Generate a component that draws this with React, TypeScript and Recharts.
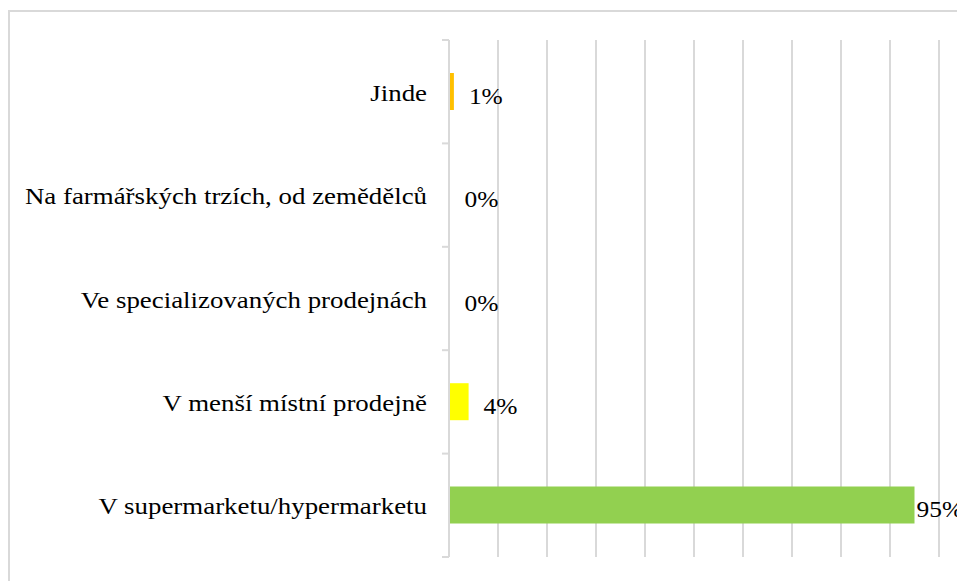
import { BarChart, Bar, XAxis, YAxis, CartesianGrid, LabelList, Cell } from 'recharts';

const categories = [
  'Jinde',
  'Na farmářských trzích, od zemědělců',
  'Ve specializovaných prodejnách',
  'V menší místní prodejně',
  'V supermarketu/hypermarketu',
];
const shares = [0.01, 0, 0, 0.04, 0.95];
const barColors = ['#FFC000', '#5B9BD5', '#A5A5A5', '#FFFF00', '#92D050'];
const xTicks = [0, 0.1, 0.2, 0.3, 0.4, 0.5, 0.6, 0.7, 0.8, 0.9, 1];

const data = categories.map((name, i) => ({ name, share: shares[i] }));

const CHART_W = 949;
const CHART_H = 571;
const FONT = 'Liberation Serif';
const STRETCH = 1.12;

function CategoryTick(props: any) {
  const { x, y, payload, index, visibleTicksCount } = props;
  const half = payload?.offset ?? 51.7;
  const axisX = x + 20;
  return (
    <g>
      <line x1={axisX - 7} x2={axisX} y1={y - half} y2={y - half} stroke="#d9d9d9" strokeWidth={2} />
      {index === visibleTicksCount - 1 && (
        <line x1={axisX - 7} x2={axisX} y1={y + half} y2={y + half} stroke="#d9d9d9" strokeWidth={2} />
      )}
      <g transform={`translate(${x - 2},${y}) scale(${STRETCH},1)`}>
        <text x={0} y={0} dy={1} textAnchor="end" dominantBaseline="central" style={{ fontFamily: FONT, fontSize: 24 }} fill="#000">
          {payload.value}
        </text>
      </g>
    </g>
  );
}

function ValueLabel(props: any) {
  const { x, y, width, height, value } = props;
  const text = `${Math.round(value * 100)}%`;
  const end = x + width;
  const textW = text.length * 13;
  const lx = end + 15 + textW > CHART_W ? end + 2 : end + 15;
  return (
    <g transform={`translate(${lx},${y + height / 2}) scale(1.06,1)`}>
      <text x={0} y={0} dy={4} dominantBaseline="central" style={{ fontFamily: FONT, fontSize: 24 }} fill="#000">
        {text}
      </text>
    </g>
  );
}

export default function App() {
  return (
    <div
      style={{
        position: 'absolute',
        left: 8,
        top: 10,
        width: CHART_W,
        height: CHART_H,
        borderLeft: '2px solid #d9d9d9',
        borderTop: '2px solid #d9d9d9',
        overflow: 'hidden',
        background: '#fff',
      }}
    >
      <BarChart
        width={CHART_W}
        height={CHART_H}
        data={data}
        layout="vertical"
        margin={{ top: 28, right: 20, bottom: 26, left: 0 }}
      >
        <CartesianGrid horizontal={false} stroke="#d9d9d9" strokeWidth={2} />
        <XAxis type="number" domain={[0, 1]} ticks={xTicks} hide />
        <YAxis
          type="category"
          dataKey="name"
          width={439}
          axisLine={{ stroke: '#d9d9d9', strokeWidth: 2 }}
          tickLine={false}
          tick={<CategoryTick />}
          tickMargin={20}
          tickSize={0}
          interval={0}
        />
        <Bar dataKey="share" barSize={37} minPointSize={0.5} isAnimationActive={false}>
          {data.map((d, i) => (
            <Cell key={d.name} fill={d.share > 0 ? barColors[i] : 'none'} />
          ))}
          <LabelList dataKey="share" content={<ValueLabel />} />
        </Bar>
      </BarChart>
    </div>
  );
}
